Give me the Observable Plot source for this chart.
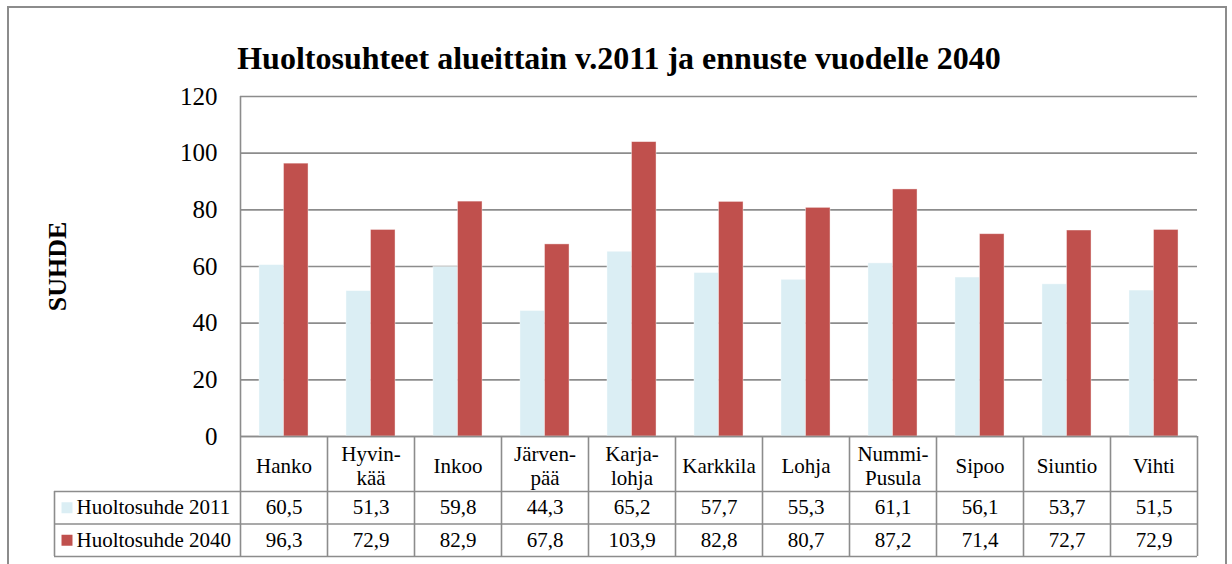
<!DOCTYPE html>
<html>
<head>
<meta charset="utf-8">
<script src="https://cdn.jsdelivr.net/npm/d3@7"></script>
<script src="https://cdn.jsdelivr.net/npm/@observablehq/plot@0.6"></script>
<style>
  html, body { margin: 0; padding: 0; background: #fff; }
  #wrap { position: relative; width: 1232px; height: 564px; overflow: hidden; }
  #frame { position: absolute; left: 7px; top: 6px; width: 1220px; height: 600px; border: 2px solid #8c8c8c; box-sizing: border-box; pointer-events: none; }
  svg { position: absolute; left: 0; top: 0; }
</style>
</head>
<body>
<div id="wrap"><div id="frame"></div></div>
<script>
const title = "Huoltosuhteet alueittain v.2011 ja ennuste vuodelle 2040";
const yLabel = "SUHDE";
const categories = ["Hanko", "Hyvinkää", "Inkoo", "Järvenpää", "Karjalohja", "Karkkila", "Lohja", "Nummi-Pusula", "Sipoo", "Siuntio", "Vihti"];
const categoryLabels = ["Hanko", "Hyvin-\nkää", "Inkoo", "Järven-\npää", "Karja-\nlohja", "Karkkila", "Lohja", "Nummi-\nPusula", "Sipoo", "Siuntio", "Vihti"];
const seriesNames = ["Huoltosuhde 2011", "Huoltosuhde 2040"];
const values2011 = [60.5, 51.3, 59.8, 44.3, 65.2, 57.7, 55.3, 61.1, 56.1, 53.7, 51.5];
const values2040 = [96.3, 72.9, 82.9, 67.8, 103.9, 82.8, 80.7, 87.2, 71.4, 72.7, 72.9];
const yTicks = [0, 20, 40, 60, 80, 100, 120];

const colors = ["#dbeef4", "#c0504d"];
const lineColor = "#8c8c8c";
const serif = "'Liberation Serif', 'Times New Roman', serif";
const fmt = v => v.toFixed(1).replace(".", ",");

const rows = categories.map((c, i) => ({i, cat: c, label: categoryLabels[i], v2011: values2011[i], v2040: values2040[i]}));
const n = categories.length;
const gap = 0.218;

// pixel offsets for table rows below the baseline
const rowCat = 55, row1 = 87.5, row2 = 120;
const legendLeft = 186;
const rowMid = [(rowCat + row1) / 2, (row1 + row2) / 2];
const legend = seriesNames.map((s, k) => ({s, k, color: colors[k]}));

const chart = Plot.plot({
  width: 1232,
  height: 564,
  marginLeft: 240,
  marginRight: 35,
  marginTop: 96,
  marginBottom: 128,
  style: {fontFamily: serif, color: "#000", background: "transparent"},
  x: {type: "linear", domain: [0, n], axis: null},
  y: {domain: [0, 120], axis: null},
  marks: [
    Plot.gridY(yTicks, {stroke: lineColor, strokeOpacity: 1, strokeWidth: 1.6}),
    Plot.rectY(rows, {x1: d => d.i + gap, x2: d => d.i + 0.5, y: "v2011", fill: colors[0], stroke: "#fff", strokeOpacity: 0.5, strokeWidth: 0.8}),
    Plot.rectY(rows, {x1: d => d.i + 0.5, x2: d => d.i + 1 - gap, y: "v2040", fill: colors[1], stroke: "#fff", strokeOpacity: 0.5, strokeWidth: 0.8}),
    // y axis line + tick labels
    Plot.ruleX([0], {y1: 0, y2: 120, stroke: lineColor, strokeWidth: 1.6}),
    Plot.axisY(yTicks, {tickSize: 0, tickPadding: 23, fontSize: 25, fontFamily: serif, tickFormat: d => String(d)}),
    Plot.text([yLabel], {frameAnchor: "left", textAnchor: "middle", dx: -183, rotate: -90, fontSize: 26, fontWeight: "bold", fontFamily: serif}),
    Plot.text([title], {frameAnchor: "top", textAnchor: "middle", dx: -100, dy: -50, fontSize: 32, fontWeight: "bold", fontFamily: serif}),
    // data table: horizontal lines
    Plot.ruleY([0], {x1: 0, x2: n, stroke: lineColor, strokeWidth: 1.6}),
    Plot.ruleY([0], {x1: 0, x2: n, dy: rowCat, insetLeft: -legendLeft, stroke: lineColor, strokeWidth: 1.6}),
    Plot.ruleY([0], {x1: 0, x2: n, dy: row1, insetLeft: -legendLeft, stroke: lineColor, strokeWidth: 1.6}),
    Plot.ruleY([0], {x1: 0, x2: n, dy: row2, insetLeft: -legendLeft, stroke: lineColor, strokeWidth: 1.6}),
    // data table: vertical lines
    Plot.ruleX(d3.range(n + 1), {x: d => d, y1: 0, y2: 0, insetBottom: -row2, stroke: lineColor, strokeWidth: 1.6}),
    Plot.ruleX([0], {y1: 0, y2: 0, dx: -legendLeft, insetTop: rowCat, insetBottom: -row2, stroke: lineColor, strokeWidth: 1.6}),
    // data table: text
    Plot.text(rows, {x: d => d.i + 0.5, y: 0, dy: 28.5, text: "label", fontSize: 21, lineHeight: 1.19, fontFamily: serif}),
    Plot.text(rows, {x: d => d.i + 0.5, y: 0, dy: rowMid[0], text: d => fmt(d.v2011), fontSize: 21, fontFamily: serif}),
    Plot.text(rows, {x: d => d.i + 0.5, y: 0, dy: rowMid[1], text: d => fmt(d.v2040), fontSize: 21, fontFamily: serif}),
    // legend column of the table
    ...legend.map(l => Plot.dot([l], {x: 0, y: 0, dx: 66.5 - 240, dy: rowMid[l.k], symbol: "square", r: 6.2, fill: l.color, stroke: null})),
    ...legend.map(l => Plot.text([l], {x: 0, y: 0, dx: 76 - 240, dy: rowMid[l.k], text: "s", textAnchor: "start", fontSize: 21, fontFamily: serif}))
  ]
});
document.getElementById("wrap").prepend(chart);
</script>
</body>
</html>
